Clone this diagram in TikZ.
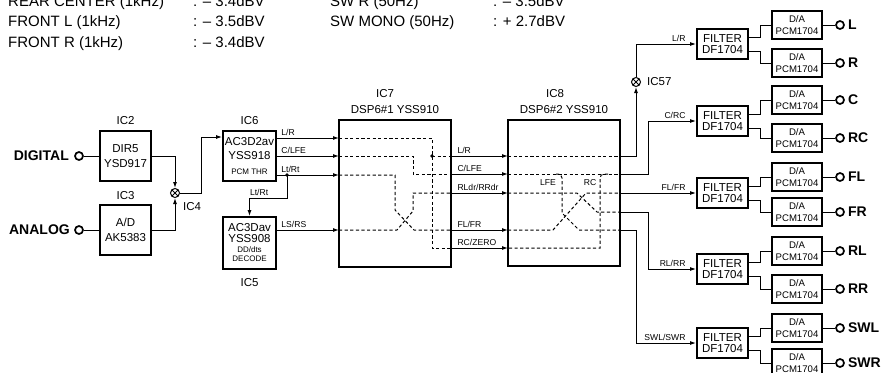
\documentclass[tikz,border=0pt]{standalone}
\usepackage{fontspec}
\setmainfont{Liberation Sans}
\usetikzlibrary{arrows.meta,positioning}

\begin{document}
\begin{tikzpicture}[x=1pt,y=-1pt,
  >={Latex[length=6pt,width=4pt]},
  sig/.style={line width=1pt},
  dsh/.style={line width=1pt,dash pattern=on 3.2pt off 2.4pt},
  icbox/.style={draw,line width=1.8pt,align=center,inner sep=0pt,font=\fontsize{11.5}{14.5}\selectfont},
  filterbox/.style={draw,line width=1.9pt,minimum width=51pt,minimum height=30pt,align=center,inner sep=0pt,font=\fontsize{11.5}{11}\selectfont},
  dabox/.style={draw,line width=1.4pt,minimum width=50pt,minimum height=28pt,align=center,inner sep=0pt,font=\fontsize{9.6}{12}\selectfont},
  jack/.style={circle,draw,line width=1.7pt,minimum size=8pt,inner sep=0pt},
  mixer/.style={circle,draw,line width=1pt,minimum size=9pt,inner sep=0pt,
    path picture={\draw[line width=1pt] (path picture bounding box.north west) -- (path picture bounding box.south east)
      (path picture bounding box.south west) -- (path picture bounding box.north east);}},
  iclab/.style={font=\fontsize{11.5}{12}\selectfont,inner sep=0pt},
  siglab/.style={font=\fontsize{8.6}{9}\selectfont,inner sep=0pt},
  hdr/.style={font=\fontsize{15}{16}\selectfont,inner sep=0pt,anchor=base west},
  inlab/.style={font=\bfseries\fontsize{14}{14}\selectfont,inner sep=0pt,anchor=east},
  outlab/.style={font=\bfseries\fontsize{14}{14}\selectfont,inner sep=0pt,anchor=west}
]
\useasboundingbox (0,0) rectangle (883,372);

%output levels
\node[hdr] (hrc) at (8,6) {REAR CENTER (1kHz)};
\node[hdr] (hrcv) at (193,6) {: -- 3.4dBV};
\node[hdr] (hfl) at (8,26.7) {FRONT L (1kHz)};
\node[hdr] (hflv) at (193,26.7) {: -- 3.5dBV};
\node[hdr] (hfr) at (8,47.3) {FRONT R (1kHz)};
\node[hdr] (hfrv) at (193,47.3) {: -- 3.4dBV};
\node[hdr] (hswr) at (330,6) {SW R (50Hz)};
\node[hdr] (hswrv) at (493,6) {: -- 3.5dBV};
\node[hdr] (hswm) at (330,26.7) {SW MONO (50Hz)};
\node[hdr] (hswmv) at (493,26.7) {: + 2.7dBV};

%inputs and receivers
\node[jack] (digjack) at (79,156) {};
\node[inlab] (diglab) at (69,156) {DIGITAL};
\node[icbox,minimum width=51pt,minimum height=50pt] (ic2) at (125.5,156) {DIR5\\YSD917};
\node[iclab,above=5pt of ic2] (ic2lab) {IC2};
\node[jack] (anajack) at (79,230) {};
\node[inlab] (analab) at (70,230) {ANALOG};
\node[icbox,minimum width=51pt,minimum height=50pt] (ic3) at (125.5,230) {A/D\\AK5383};
\node[iclab,above=4pt of ic3] (ic3lab) {IC3};
\node[mixer] (ic4) at (175,193) {};
\node[iclab] (ic4lab) at (192,207) {IC4};

\draw[sig] (digjack.east) -- (ic2.west);
\draw[sig] (anajack.east) -- (ic3.west);
\draw[sig,->] (ic2.east) -| (ic4.north);
\draw[sig,->] (ic3.east) -| (ic4.south);

%decoders
\node[icbox,minimum width=53pt,minimum height=50pt] (ic6) at (249.5,156) {AC3D2av\\YSS918\\{\fontsize{8}{9}\selectfont PCM THR}};
\node[iclab,above=5pt of ic6] (ic6lab) {IC6};
\node[icbox,minimum width=53pt,minimum height=52pt] (ic5) at (249.5,243)
  {AC3Dav\\[-3.5pt]YSS908\\[-4.5pt]{\fontsize{8}{9}\selectfont DD/dts}\\[-5.5pt]{\fontsize{8}{9}\selectfont DECODE}};
\node[iclab,below=8pt of ic5] (ic5lab) {IC5};
\draw[sig,->] (ic4.east) -- ++(21,0) |- ([yshift=19pt]ic6.west);

%DSP blocks
\node[icbox,minimum width=112pt,minimum height=147pt] (ic7) at (395,193.5) {};
\node[iclab,above=5pt of ic7] (ic7name) {DSP6\#1 YSS910};
\node[iclab,above=8pt of ic7name,xshift=-10pt] (ic7lab) {IC7};
\node[icbox,minimum width=112pt,minimum height=146pt] (ic8) at (564,193) {};
\node[iclab,above=5pt of ic8] (ic8name) {DSP6\#2 YSS910};
\node[iclab,above=8pt of ic8name,xshift=-9pt] (ic8lab) {IC8};

%ports
\foreach \n/\y in {a/138,b/156,c/175,d/230}
  \coordinate (i7\n) at (339,\y);
\foreach \n/\y in {a/156,b/174,c/193,d/230,e/248}
  {
  \coordinate (o7\n) at (451,\y);
  \coordinate (i8\n) at (508,\y);
  }
\foreach \n/\y in {a/156,b/174,c/193,d/212,e/230}
  \coordinate (o8\n) at (620,\y);

%decoder outputs
\draw[sig,->] (i7a -| ic6.east) -- (i7a) node[siglab,pos=0,anchor=south west,xshift=4pt,yshift=1.5pt] {L/R};
\draw[sig,->] (i7b -| ic6.east) -- (i7b) node[siglab,pos=0,anchor=south west,xshift=4pt,yshift=1.5pt] {C/LFE};
\draw[sig,->] (i7c -| ic6.east) -- (i7c) node[siglab,pos=0,anchor=south west,xshift=4pt,yshift=1.5pt] {Lt/Rt};
\draw[sig,->] (i7d -| ic5.east) -- (i7d) node[siglab,pos=0,anchor=south west,xshift=4pt,yshift=1.5pt] {LS/RS};
\coordinate (ltrt) at (287,175);
\fill (ltrt) circle (1.9pt);
\draw[sig,->] (ltrt) -- ++(0,23) -| (ic5.north) node[siglab,pos=0.5,anchor=south west,yshift=1.5pt] {Lt/Rt};

%IC7 routing
\draw[dsh] (i7a) -- (432,138) -- (432,248) -- (o7e);
\fill (432,156) circle (1.9pt);
\draw[dsh] (432,156) -- (o7a);
\draw[dsh] (i7b) -- (413,156) -- (413,174) -- (o7b);
\draw[dsh] (i7c) -- (395,175) -- (395,210) -- (414,230) -- (o7d);
\draw[dsh] (i7d) -- (397,230) -- (413,211) -- (413,193) -- (o7c);

%IC7 to IC8
\draw[sig,->] (o7a) -- (i8a) node[siglab,pos=0,anchor=south west,xshift=6pt,yshift=1.5pt] {L/R};
\draw[sig,->] (o7b) -- (i8b) node[siglab,pos=0,anchor=south west,xshift=6pt,yshift=1.5pt] {C/LFE};
\draw[sig,->] (o7c) -- (i8c) node[siglab,pos=0,anchor=south west,xshift=6pt,yshift=1.5pt] {RLdr/RRdr};
\draw[sig,->] (o7d) -- (i8d) node[siglab,pos=0,anchor=south west,xshift=6pt,yshift=1.5pt] {FL/FR};
\draw[sig,->] (o7e) -- (i8e) node[siglab,pos=0,anchor=south west,xshift=6pt,yshift=1.5pt] {RC/ZERO};

%IC8 routing
\draw[dsh] (i8a) -- (o8a);
\draw[dsh] (i8b) -- (o8b);
\draw[dsh] (i8c) -- (577,193) -- (597,212) -- (o8d);
\draw[dsh] (i8d) -- (553,230) -- (586,193) -- (o8c);
\draw[dsh] (556,174) [rounded corners=4pt] -| (562,190) [sharp corners] -- (562,213) -- (579,230) -- (o8e);
\draw[dsh] (608,174) [rounded corners=4pt] -| (600,190) [sharp corners] -- (600,248) -- (i8e);
\node[siglab] (lfelab) at (548,183) {LFE};
\node[siglab] (rclab) at (590,183) {RC};

%D/A converters and outputs
\foreach \n/\y/\lab in {1/25/L,2/63/R,3/100/C,4/138/RC,5/177/FL,6/212/FR,7/251/RL,8/289/RR,9/328/SWL,10/363/SWR}
  {
  \node[dabox] (da\n) at (797,\y) {D/A\\PCM1704};
  \node[jack] (jk\n) at (840,\y) {};
  \node[outlab] (lb\n) at ([xshift=3pt]jk\n.east) {\lab};
  \draw[sig] (da\n.east) -- (jk\n.west);
  }

%filters
\foreach \n/\y/\a/\b in {1/44/1/2,2/121/3/4,3/193/5/6,4/269/7/8,5/343/9/10}
  {
  \node[filterbox] (flt\n) at (722.5,\y) {FILTER\\DF1704};
  \draw[sig] ([yshift=7pt]flt\n.east) -- ++(12,0) |- (da\a.west);
  \draw[sig] ([yshift=-7pt]flt\n.east) -- ++(12,0) |- (da\b.west);
  }

%IC8 outputs
\node[mixer] (ic57) at (636,82) {};
\node[iclab,anchor=west] (ic57lab) at ([xshift=6pt]ic57.east) {IC57};
\draw[sig,->] (o8a) -| (ic57.south);
\draw[sig,->] (ic57.north) |- (flt1.west) node[siglab,at end,anchor=south east,xshift=-10pt,yshift=1.5pt] {L/R};
\draw[sig,->] (o8b) -- ++(28,0) |- (flt2.west) node[siglab,at end,anchor=south east,xshift=-10pt,yshift=1.5pt] {C/RC};
\draw[sig,->] (o8c) -- (flt3.west) node[siglab,at end,anchor=south east,xshift=-10pt,yshift=1.5pt] {FL/FR};
\draw[sig,->] (o8d) -- ++(28,0) |- (flt4.west) node[siglab,at end,anchor=south east,xshift=-10pt,yshift=1.5pt] {RL/RR};
\draw[sig,->] (o8e) -- ++(16,0) |- (flt5.west) node[siglab,at end,anchor=south east,xshift=-10pt,yshift=1.5pt] {SWL/SWR};

\end{tikzpicture}
\end{document}
